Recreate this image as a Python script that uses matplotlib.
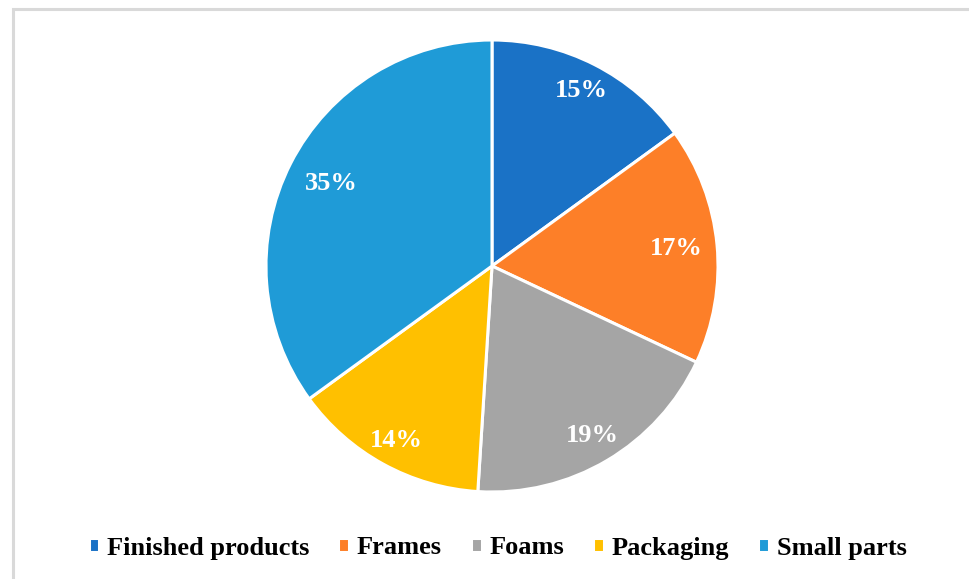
import numpy as np
import matplotlib.pyplot as plt
from matplotlib.patches import Rectangle

categories = ['Finished products', 'Frames', 'Foams', 'Packaging', 'Small parts']
shares = [15, 17, 19, 14, 35]
colors = ['#1A72C6', '#FD7F28', '#A5A5A5', '#FFC000', '#1F9BD7']
# radial position of each percentage label (fraction of radius), best-fit as in Excel
label_dist = [0.87, 0.82, 0.87, 0.88, 0.80]

plt.rcParams['font.family'] = 'Liberation Serif'
plt.rcParams['font.weight'] = 'bold'

fig = plt.figure(figsize=(9.70, 5.79), dpi=100)

# light grey frame (only top and left edges visible in the crop)
fig.patches.append(Rectangle((13 / 970, -0.05), 1.2, 1 - 8.5 / 579 + 0.05,
                             transform=fig.transFigure, fill=False,
                             edgecolor='#D9D9D9', linewidth=2.2))

# pie: centre (492, 266), radius 226 px
cx, cy, r = 492, 266, 226
ax = fig.add_axes([(cx - r) / 970, 1 - (cy + r) / 579, 2 * r / 970, 2 * r / 579])
wedges, texts, autotexts = ax.pie(
    shares, colors=colors, startangle=90, counterclock=False,
    autopct='%d%%', pctdistance=0.84,
    wedgeprops=dict(edgecolor='white', linewidth=2.2),
    textprops=dict(color='white', fontsize=19, fontweight='bold'))
for w, t, d in zip(wedges, autotexts, label_dist):
    ang = np.deg2rad((w.theta1 + w.theta2) / 2)
    t.set_position((d * np.cos(ang), d * np.sin(ang)))
ax.set_xlim(-1, 1)
ax.set_ylim(-1, 1)
ax.set_aspect('equal')

leg = fig.legend(wedges, categories, loc='center', bbox_to_anchor=(0.513, 1 - 548 / 579),
                 ncol=5, frameon=False, fontsize=19, handlelength=0.4, handleheight=0.4,
                 handletextpad=0.3, columnspacing=1.1)

fig.savefig('out.png', dpi=100)
